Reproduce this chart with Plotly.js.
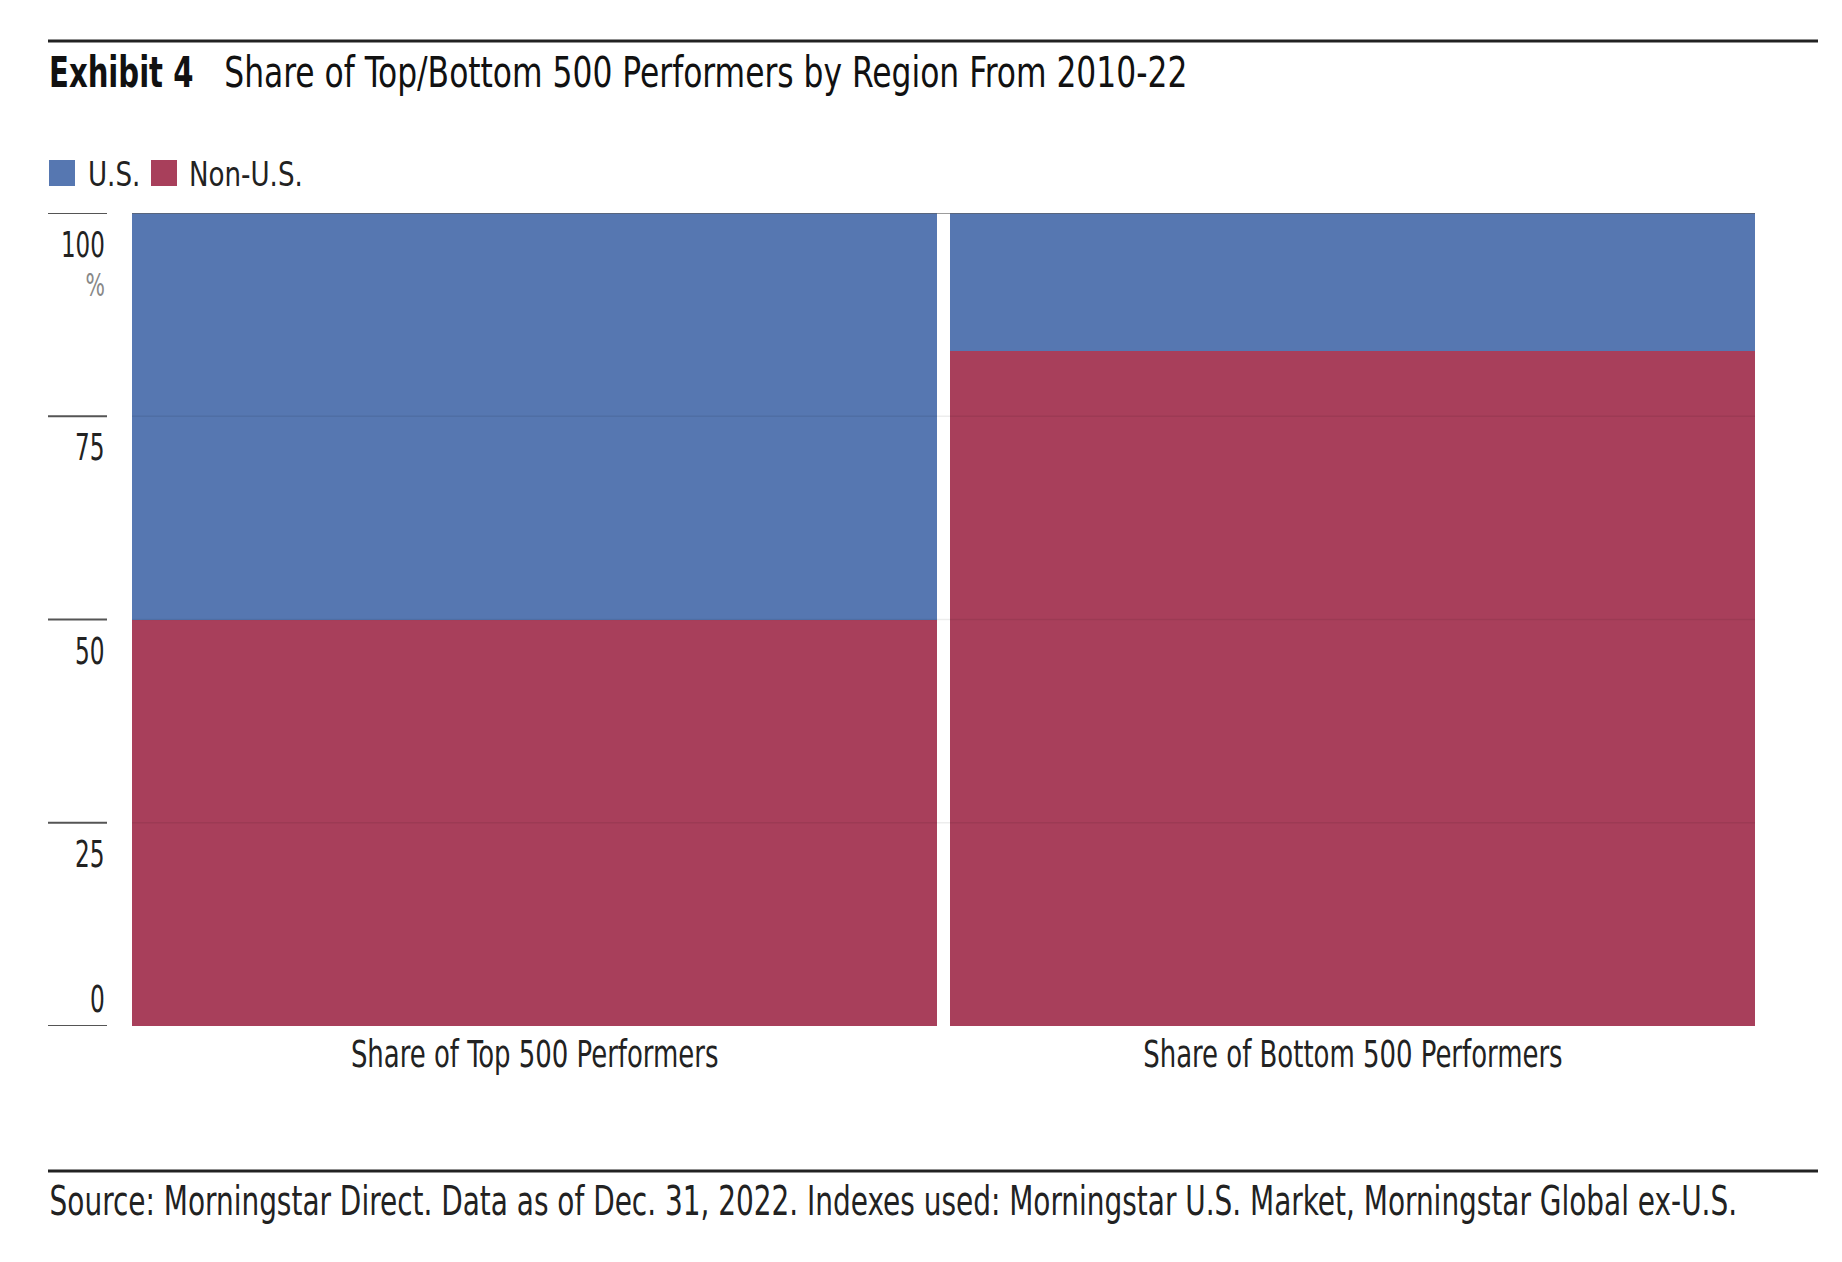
<!DOCTYPE html>
<html><head><meta charset="utf-8">
<script src="https://cdn.plot.ly/plotly-3.0.1.min.js"></script>
<style>html,body{margin:0;padding:0;background:#fff}</style>
</head><body><div id="chart" style="width:1842px;height:1262px"></div>
<script>
// ---- data ----
const categories = ["Share of Top 500 Performers", "Share of Bottom 500 Performers"];
const nonUSValues = [50, 83];
const usValues = [50, 17];
const seriesNames = ["U.S.", "Non-U.S."];
const yTickValues = [0, 25, 50, 75, 100];
const yTickLabels = ["0", "25", "50", "75", "100"];
const yUnitLabel = "%";
const titleBold = "Exhibit 4";
const titleText = "Share of Top/Bottom 500 Performers by Region From 2010-22";
const sourceText = "Source: Morningstar Direct. Data as of Dec. 31, 2022. Indexes used: Morningstar U.S. Market, Morningstar Global ex-U.S.";

// ---- style ----
const COL_US = "#5677B1", COL_NONUS = "#A83F5B";
const FONT = "'DejaVu Sans Condensed', 'Liberation Sans Narrow', sans-serif";
const W = 1842, H = 1262, L = 132, R = 87, T = 213, B = 236;
const PW = W - L - R, PH = H - T - B;
const px = x => (x - L) / PW;
const py = y => (H - B - y) / PH;
const GAP = 0.017;

const traces = [
  {type: "bar", name: seriesNames[1], x: categories, y: nonUSValues,
   marker: {color: COL_NONUS, line: {width: 0}}, hoverinfo: "y+name"},
  {type: "bar", name: seriesNames[0], x: categories, y: usValues,
   marker: {color: COL_US, line: {width: 0}}, hoverinfo: "y+name"}
];

const shapes = [];
const annotations = [];
const squeeze = [];   // horizontal condensing per annotation (font is condensed in original)
function addAnn(a, s, origin) { annotations.push(a); squeeze.push({s: s, o: origin}); }

// rules
[41, 1171].forEach(yy => shapes.push({type: "line", xref: "paper", yref: "paper",
  x0: px(48), x1: px(1818), y0: py(yy), y1: py(yy), line: {color: "#222", width: 3}}));
// y tick marks, gridlines and labels
const topTick = yTickValues[yTickValues.length - 1];
yTickValues.forEach((v, i) => {
  shapes.push({type: "line", xref: "paper", yref: "y", x0: px(48), x1: px(107), y0: v, y1: v,
    line: {color: "#555", width: 2}});
  if (v > 0) shapes.push({type: "line", xref: "paper", yref: "y", x0: 0, x1: 1, y0: v, y1: v, layer: "above",
    line: {color: v === topTick ? "rgba(90,90,90,0.6)" : "rgba(0,0,0,0.07)", width: v === topTick ? 2 : 1.5}});
  if (v === topTick) {
    addAnn({xref: "paper", yref: "y", x: px(106), y: v, xanchor: "right", yanchor: "middle", align: "right",
      yshift: -51, showarrow: false, borderpad: 0,
      text: "<span style='font-size:36px'>" + yTickLabels[i] + "</span><br>" +
            "<span style='font-size:32px;color:#888'>" + yUnitLabel + "</span>",
      font: {family: FONT, size: 30, color: "#222"}}, 0.71, "right center");
  } else {
    addAnn({xref: "paper", yref: "y", x: px(106), y: v, xanchor: "right", yanchor: "middle",
      yshift: v === 0 ? 27 : -31, showarrow: false, borderpad: 0,
      text: yTickLabels[i], font: {family: FONT, size: 38, color: "#222"}}, 0.68, "right center");
  }
});
// title
addAnn({xref: "paper", yref: "paper", x: px(48), y: py(73), xanchor: "left", yanchor: "middle",
  showarrow: false, borderpad: 0, text: "<b>" + titleBold + "</b>", font: {family: FONT, size: 42, color: "#111"}},
  0.77, "left center");
addAnn({xref: "paper", yref: "paper", x: px(223), y: py(73), xanchor: "left", yanchor: "middle",
  showarrow: false, borderpad: 0, text: titleText, font: {family: FONT, size: 42, color: "#111"}},
  0.83, "left center");
// legend (manual, condensed look)
const legendItems = [{name: seriesNames[0], color: COL_US, sx: 49, tx: 87},
                     {name: seriesNames[1], color: COL_NONUS, sx: 151, tx: 188}];
legendItems.forEach(it => {
  shapes.push({type: "rect", xref: "paper", yref: "paper", x0: px(it.sx), x1: px(it.sx + 26),
    y0: py(186), y1: py(160), fillcolor: it.color, line: {width: 0}});
  addAnn({xref: "paper", yref: "paper", x: px(it.tx), y: py(174), xanchor: "left", yanchor: "middle",
    showarrow: false, borderpad: 0, text: it.name, font: {family: FONT, size: 33, color: "#222"}},
    0.88, "left center");
});
// category labels
categories.forEach(c => addAnn({xref: "x", yref: "paper", x: c, y: py(1054), xanchor: "center",
  yanchor: "middle", showarrow: false, borderpad: 0, text: c, font: {family: FONT, size: 37, color: "#222"}},
  0.78, "center center"));
// source
addAnn({xref: "paper", yref: "paper", x: px(48), y: py(1201), xanchor: "left", yanchor: "middle",
  showarrow: false, borderpad: 0, text: sourceText, font: {family: FONT, size: 41, color: "#222"}},
  0.758, "left center");

const layout = {
  width: W, height: H, margin: {l: L, r: R, t: T, b: B, pad: 0},
  paper_bgcolor: "#fff", plot_bgcolor: "#fff",
  barmode: "stack", bargap: GAP, showlegend: false,
  font: {family: FONT, color: "#222"},
  xaxis: {type: "category", range: [-0.5 + GAP / 2, 1.5 - GAP / 2], showgrid: false, zeroline: false,
    showline: false, ticks: "", showticklabels: false},
  yaxis: {range: [0, 100], tickvals: yTickValues, showticklabels: false, showgrid: false,
    zeroline: false, showline: false, ticks: ""},
  shapes: shapes, annotations: annotations
};
Plotly.newPlot("chart", traces, layout, {displayModeBar: false, staticPlot: true}).then(gd => {
  gd.querySelectorAll("g.annotation").forEach(g => {
    const i = +g.getAttribute("data-index");
    const t = g.querySelector("text.annotation-text");
    if (!t || !squeeze[i]) return;
    t.style.transformBox = "fill-box";
    t.style.transformOrigin = squeeze[i].o;
    t.style.transform = "scaleX(" + squeeze[i].s + ")";
  });
});
</script></body></html>
